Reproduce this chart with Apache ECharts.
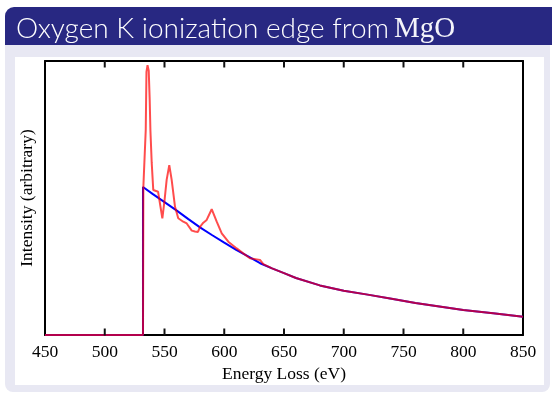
<!doctype html>
<html>
<head>
<meta charset="utf-8" />
<script src="https://cdn.jsdelivr.net/npm/echarts@6/dist/echarts.min.js"></script>
<style>
html, body { margin: 0; padding: 0; background: #fff; }
#chart { width: 552px; height: 395px; }
</style>
</head>
<body>
<div id="chart"></div>
<script>
// values (energy in eV, intensity arbitrary 0..1)
const xTicks = [450, 500, 550, 600, 650, 700, 750, 800, 850];

const bgEnergy = [450, 532, 532, 540, 550, 560, 570, 580, 590, 600, 610, 620, 630, 640, 650, 660, 680, 700, 720, 740, 760, 780, 800, 825, 850];
const bgIntensity = [0, 0, 0.54, 0.515, 0.485, 0.455, 0.423, 0.392, 0.364, 0.337, 0.311, 0.287, 0.262, 0.243, 0.226, 0.208, 0.181, 0.1617, 0.1474, 0.1324, 0.1167, 0.104, 0.091, 0.079, 0.067];

const edgeEnergy = [450, 532, 532.3, 534.3, 534.9, 535.8, 536.8, 537.6, 538.2, 539.3, 540.6, 542.1, 544.6, 548.2, 550, 551.8, 554, 556, 558.8, 561.5, 565.7, 568.6, 572.8, 575.5, 578, 579.7, 582.5, 585.3, 589.5, 593.7, 597.9, 603.4, 610.4, 615.9, 621.5, 627.2, 629.9, 632.7, 640, 650, 660, 680, 700, 720, 740, 760, 780, 800, 825, 850];
const edgeIntensity = [0, 0, 0.54, 0.748, 0.96, 0.985, 0.965, 0.86, 0.748, 0.628, 0.529, 0.523, 0.523, 0.426, 0.49, 0.566, 0.62, 0.566, 0.468, 0.426, 0.4135, 0.407, 0.381, 0.378, 0.376, 0.395, 0.41, 0.42, 0.459, 0.4135, 0.371, 0.3405, 0.316, 0.298, 0.28, 0.276, 0.274, 0.259, 0.243, 0.226, 0.208, 0.181, 0.1617, 0.1474, 0.1324, 0.1167, 0.104, 0.091, 0.079, 0.067];

function pairs(xs, ys) {
    return xs.map((x, i) => [x, ys[i]]);
}

const serif = '"Liberation Serif", "Times New Roman", serif';

var myChart = echarts.init(document.getElementById('chart'), null, { renderer: 'canvas' });

function frameAxis(pos) {
    return {
        type: 'value',
        position: pos,
        min: xTicks[0],
        max: xTicks[xTicks.length - 1],
        interval: 50,
        axisLine: { show: true, onZero: false, lineStyle: { color: '#000', width: 2 } },
        axisTick: { show: false },
        splitLine: { show: false }
    };
}

// inward tick marks on the bottom (y=0) and top (y=1) edges, drawn as thin rect symbols
function tickSeries(yVal, offset) {
    return {
        type: 'scatter',
        data: xTicks.slice(1, -1).map(v => [v, yVal]),
        symbol: 'rect',
        symbolSize: [2, 7],
        symbolOffset: [0, offset],
        itemStyle: { color: '#111', opacity: 1 },
        silent: true,
        clip: false,
        z: 6
    };
}

myChart.setOption({
    animation: false,
    graphic: [
        { type: 'rect', z: -10, shape: { x: 5, y: 45, width: 545, height: 347, r: [0, 0, 8, 8] }, style: { fill: '#e8e8f3' } },
        { type: 'rect', z: -10, shape: { x: 5, y: 7, width: 560, height: 38, r: [9, 9, 0, 0] }, style: { fill: '#282882' } },
        { type: 'rect', z: -9, shape: { x: 15, y: 57, width: 529, height: 328 }, style: { fill: '#ffffff' } },
        {
            type: 'text', z: 10, x: 16, y: 29,
            style: {
                text: 'Oxygen K ionization edge from ',
                verticalAlign: 'middle',
                font: '300 28px Lato',
                fill: '#ffffff'
            }
        },
        {
            type: 'text', z: 10, x: 394, y: 29,
            style: {
                text: 'MgO',
                verticalAlign: 'middle',
                font: 'normal 29px "Liberation Serif"',
                fill: '#f4f4fa'
            }
        }
    ],
    grid: { left: 45, right: 29, top: 61, bottom: 60 },
    xAxis: [
        Object.assign(frameAxis('bottom'), {
            name: 'Energy Loss (eV)',
            nameLocation: 'middle',
            nameGap: 30,
            nameTextStyle: { fontFamily: serif, fontSize: 17.5, color: '#000' },
            axisLabel: { show: true, margin: 8, fontFamily: serif, fontSize: 17.5, color: '#000' }
        }),
        Object.assign(frameAxis('top'), {
            axisLabel: { show: false }
        })
    ],
    yAxis: [
        {
            type: 'value', min: 0, max: 1, position: 'left',
            name: 'Intensity (arbitrary)',
            nameLocation: 'middle',
            nameGap: 9,
            nameTextStyle: { fontFamily: serif, fontSize: 17.5, color: '#000' },
            axisLine: { show: true, onZero: false, lineStyle: { color: '#000', width: 2 } },
            axisTick: { show: false },
            axisLabel: { show: false },
            splitLine: { show: false }
        },
        {
            type: 'value', min: 0, max: 1, position: 'right',
            axisLine: { show: true, onZero: false, lineStyle: { color: '#000', width: 2 } },
            axisTick: { show: false },
            axisLabel: { show: false },
            splitLine: { show: false }
        }
    ],
    series: [
        {
            type: 'line',
            data: pairs(bgEnergy, bgIntensity),
            showSymbol: false,
            lineStyle: { color: '#0000ff', width: 2 },
            z: 2
        },
        {
            type: 'line',
            data: pairs(edgeEnergy, edgeIntensity),
            showSymbol: false,
            lineStyle: { color: '#ff0000', width: 2, opacity: 0.7 },
            z: 3
        },
        tickSeries(0, -3),
        tickSeries(1, 3)
    ]
});
</script>
</body>
</html>
